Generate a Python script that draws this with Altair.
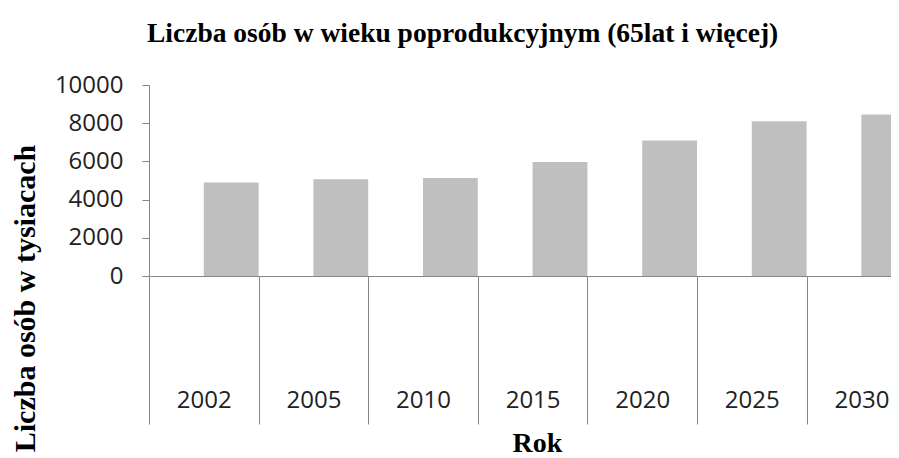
import altair as alt
import pandas as pd

years = ["2002", "2005", "2010", "2015", "2020", "2025", "2030"]
values = [4900, 5060, 5130, 5970, 7100, 8100, 8460]
y_ticks = [0, 2000, 4000, 6000, 8000, 10000]

df = pd.DataFrame({"year": years, "value": values, "idx": list(range(len(years)))})

W = 742
H = 191
BAND = 109.6
XMAX = W / BAND
GRAY = "#868686"

years_js = "[" + ",".join(f"'{y}'" for y in years) + "]"

x_scale = alt.Scale(domain=[0, XMAX], nice=False, zero=False)

chart = alt.Chart(df).transform_calculate(
    x0="datum.idx + 0.5", x1="datum.idx + 1", base="0"
).mark_bar(color="#bfbfbf", clip=True).encode(
    x=alt.X("x0:Q", scale=x_scale, axis=alt.Axis(
        values=[i + 0.5 for i in range(len(years))],
        labelExpr=f"{years_js}[floor(datum.value)]",
        tickOffset=-BAND / 2, labelOffset=BAND / 2,
        tickSize=148, tickColor=GRAY, domainColor=GRAY,
        labelFont="Open Sans", labelFontSize=24, labelColor="#222222",
        labelPadding=-36, labelOverlap=False, labelFlush=False,
        grid=False, title="Rok", titleFont="Liberation Serif", titleFontSize=28,
        titleFontWeight="bold", titleX=388, titleY=175, titleBaseline="alphabetic",
        titleAlign="center", titleColor="#000000")),
    x2="x1:Q",
    y=alt.Y("value:Q", scale=alt.Scale(domain=[0, 10000], nice=False), axis=alt.Axis(
        values=y_ticks, format="d", tickSize=7, tickColor=GRAY, domainColor=GRAY,
        labelFont="Open Sans", labelFontSize=24, labelColor="#222222",
        labelPadding=19, grid=False,
        title="Liczba osób w tysiacach", titleFont="Liberation Serif", titleFontSize=30,
        titleFontWeight="bold", titleX=-124, titleY=213, titleAngle=270,
        titleAlign="center", titleBaseline="middle", titleColor="#000000")),
    y2="base:Q",
).properties(
    width=W, height=H,
    autosize=alt.AutoSizeParams(type="none"),
    padding={"left": 141, "top": 77, "right": 0, "bottom": 180},
    title=alt.TitleParams(
        "Liczba osób w wieku poprodukcyjnym (65lat i więcej)",
        anchor="start", frame="group", dx=-2, dy=-22, font="Liberation Serif", fontSize=27.5,
        fontWeight="bold", color="#000000"),
).configure_view(stroke=None)

chart.save("out.html", embed_options={"renderer": "svg", "actions": False})
